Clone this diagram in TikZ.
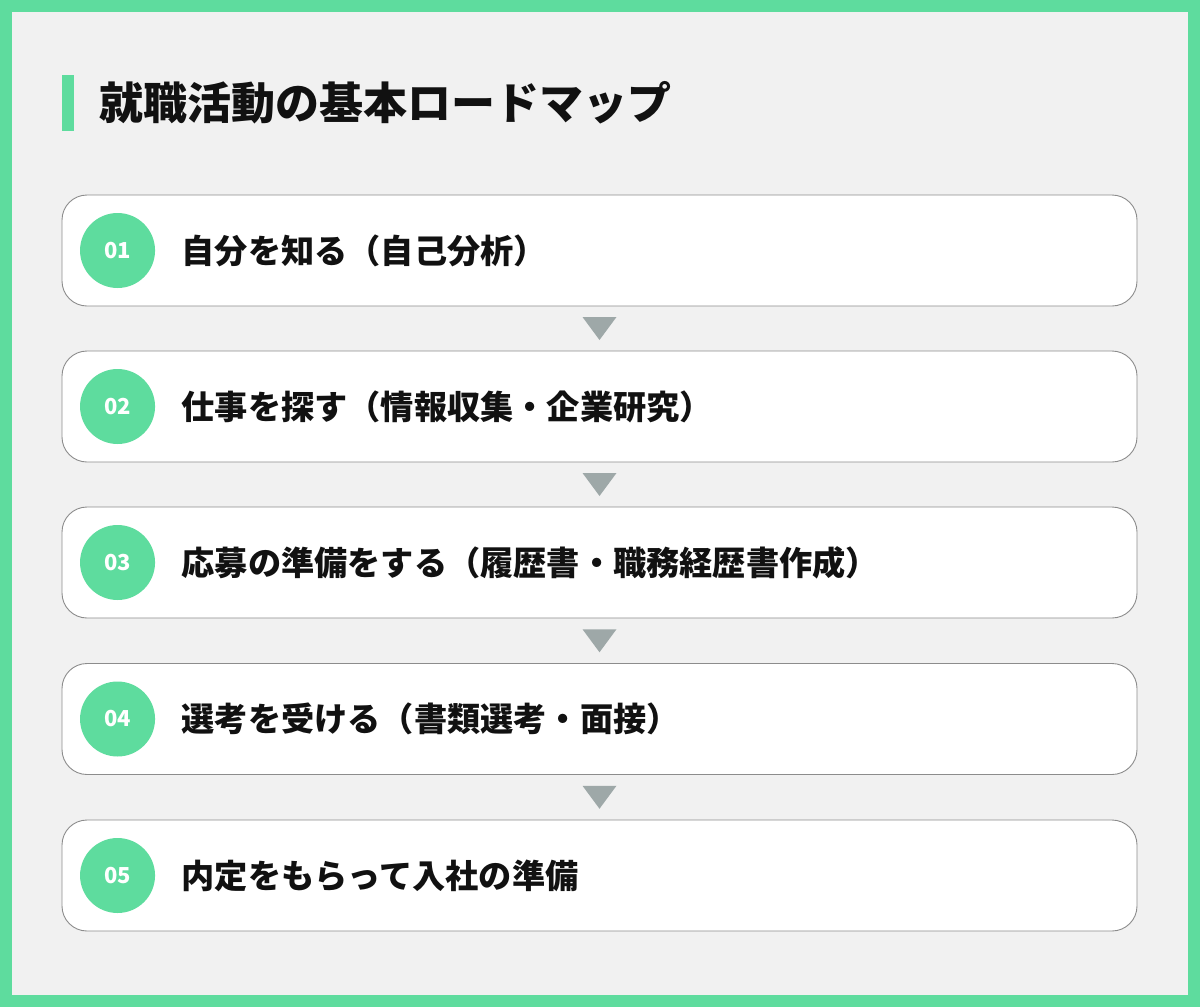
\documentclass[tikz,border=0pt]{standalone}
\usepackage{fontspec}
\setmainfont{Noto Sans CJK JP}
\usetikzlibrary{calc}
\definecolor{frameg}{HTML}{5EDC9E}
\definecolor{bgg}{HTML}{F1F1F1}
\definecolor{boxline}{HTML}{8C8C8C}
\definecolor{arrg}{HTML}{9EA8A8}
\definecolor{txt}{HTML}{111111}
\tikzset{
  stepbox/.style={draw=boxline, line width=0.9pt, fill=white, rounded corners=25pt, minimum width=1075pt, minimum height=111pt, inner sep=0pt},
  numcirc/.style={circle, fill=frameg, minimum size=75pt, inner sep=0pt, text=white, font=\bfseries\fontsize{22}{26}\selectfont},
  steplabel/.style={anchor=west, inner sep=0pt, text=txt, font=\bfseries\fontsize{33.2}{40}\selectfont},
  downtri/.style={fill=arrg}
}
\begin{document}
\begin{tikzpicture}[x=1pt,y=-1pt]
\useasboundingbox (0,0) rectangle (1200,1007);
\fill[frameg] (0,0) rectangle (1200,1007);
\fill[bgg] (12,12) rectangle (1188,995);
\fill[frameg] (62,75) rectangle (74,131);
\node[anchor=west, inner sep=0pt, text=txt, font=\bfseries\fontsize{44}{52}\selectfont] (title) at (99,103) {就職活動の基本ロードマップ};
\foreach \i/\y/\lab in {1/250.5/自分を知る（自己分析）,2/406.5/仕事を探す（情報収集・企業研究）,3/562.5/応募の準備をする（履歴書・職務経歴書作成）,4/719/選考を受ける（書類選考・面接）,5/875.5/内定をもらって入社の準備}{
  \node[stepbox] (b\i) at (599.5,\y) {};
  \node[numcirc] (c\i) at ([xshift=56pt]b\i.west) {0\i};
  \node[steplabel] (t\i) at ([xshift=120pt]b\i.west) {\lab};
}
\foreach \a/\b in {1/2,2/3,3/4,4/5}{
  \fill[downtri] ($(b\a.south)!0.5!(b\b.north)$) ++(-17,-11.5) -- ++(34,0) -- ++(-17,23) -- cycle;
}
\end{tikzpicture}
\end{document}
